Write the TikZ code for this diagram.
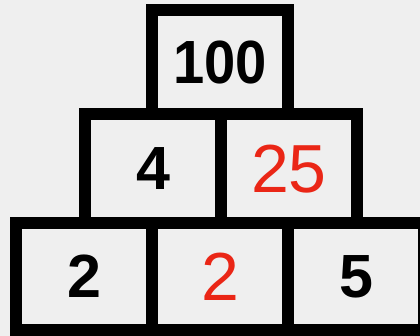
\documentclass[tikz,border=0pt]{standalone}
\usepackage{fontspec}
\setmainfont{Liberation Sans}
\definecolor{bg}{HTML}{EFEFEF}
\definecolor{numred}{RGB}{234,38,22}
\tikzset{
  cell/.style={draw=black, line width=12pt, minimum width=136pt, inner sep=0pt, outer sep=0pt, anchor=center},
  blacknum/.style={font=\fontsize{61}{61}\selectfont\bfseries, text=black},
  rednum/.style={font=\fontsize{68}{68}\selectfont, text=numred}
}
\begin{document}
\begin{tikzpicture}[x=1pt,y=-1pt]
\useasboundingbox (0,0) rectangle (420,336);
\fill[bg] (0,0) rectangle (420,336);
\clip (0,0) rectangle (420,336);
% bottom row
\node[cell, minimum height=107pt, blacknum] (b1) at (84,276.5) {2};
\node[cell, minimum height=107pt, rednum] (b2) at (220,276.5) {2};
\node[cell, minimum height=107pt, blacknum] (b3) at (356,276.5) {5};
% middle row
\node[cell, minimum height=108.5pt, blacknum] (m1) at (153,168.75) {4};
\node[cell, minimum height=108.5pt, rednum] (m2) at (289,168.75) {25};
% top
\node[cell, minimum height=104.5pt, blacknum] (t1) at (220,62.25) {\scalebox{0.92}[1]{100}};
\end{tikzpicture}
\end{document}
